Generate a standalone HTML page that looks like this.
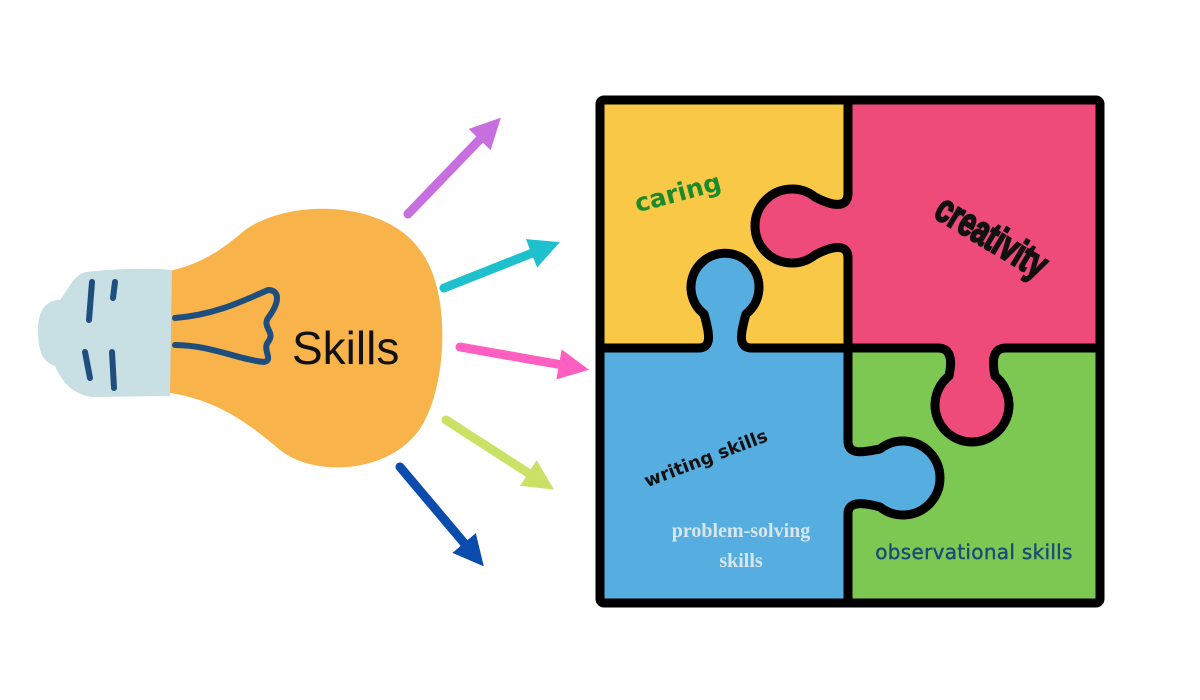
<!DOCTYPE html>
<html><head><meta charset="utf-8"><style>
html,body{margin:0;padding:0;background:#fff;}
svg{display:block;}
</style></head><body>
<svg width="1200" height="700" viewBox="0 0 1200 700" xmlns="http://www.w3.org/2000/svg">
<defs>
<marker id="mp" viewBox="0 0 10 10" refX="3" refY="5" markerWidth="3.4" markerHeight="3.4" orient="auto"><path d="M0,0 L10,5 L0,10 z" fill="#C86FE0"/></marker>
<marker id="mc" viewBox="0 0 10 10" refX="3" refY="5" markerWidth="3.4" markerHeight="3.4" orient="auto"><path d="M0,0 L10,5 L0,10 z" fill="#1EC0CE"/></marker>
<marker id="mk" viewBox="0 0 10 10" refX="3" refY="5" markerWidth="3.4" markerHeight="3.4" orient="auto"><path d="M0,0 L10,5 L0,10 z" fill="#FF5FC0"/></marker>
<marker id="ml" viewBox="0 0 10 10" refX="3" refY="5" markerWidth="3.4" markerHeight="3.4" orient="auto"><path d="M0,0 L10,5 L0,10 z" fill="#C9E265"/></marker>
<marker id="mb" viewBox="0 0 10 10" refX="3" refY="5" markerWidth="3.4" markerHeight="3.4" orient="auto"><path d="M0,0 L10,5 L0,10 z" fill="#0A4BAE"/></marker>
</defs>

<!-- bulb -->
<path d="M165,272 C200,265 222,250 245,230 C290,198 385,200 420,250 C452,292 446,380 425,420 C400,472 318,480 280,450 C250,425 220,400 165,392 Z" fill="#F8B34A"/>
<path d="M172,270 C140,267 102,270 86,272 C74,274 68,290 60,300 C45,300 38,312 38,330 C38,350 42,362 55,366 C62,382 72,394 92,397 L170,396 Z" fill="#C8DFE3"/>
<g stroke="#1E4E7E" stroke-width="6" stroke-linecap="round" fill="none">
<path d="M92,282 L89,320"/>
<path d="M115,282 L113,298"/>
<path d="M85,352 L90,378"/>
<path d="M112,352 L114,388"/>
<path d="M175,318 C215,315 245,300 268,290 C280,290 280,302 268,318 C262,328 276,332 268,342 C262,350 274,360 264,362 C240,360 210,345 175,345"/>
</g>
<text x="292" y="364" font-family="Liberation Sans, sans-serif" font-size="46" fill="#111">Skills</text>

<!-- arrows -->
<g stroke-width="9" stroke-linecap="round">
<line x1="408" y1="214" x2="486" y2="133" stroke="#C86FE0" marker-end="url(#mp)"/>
<line x1="444" y1="288" x2="540" y2="250" stroke="#1EC0CE" marker-end="url(#mc)"/>
<line x1="460" y1="347" x2="568" y2="366" stroke="#FF5FC0" marker-end="url(#mk)"/>
<line x1="446" y1="420" x2="536" y2="478" stroke="#C9E265" marker-end="url(#ml)"/>
<line x1="400" y1="467" x2="470" y2="550" stroke="#0A4BAE" marker-end="url(#mb)"/>
</g>

<!-- puzzle fills -->
<rect x="600" y="100" width="248" height="248" fill="#F9C846"/>
<rect x="848" y="100" width="252" height="248" fill="#EE4B7A"/>
<rect x="600" y="348" width="248" height="255" fill="#56ADE0"/>
<rect x="848" y="348" width="252" height="255" fill="#7DC852"/>
<path d="M848,193 C848,210 830,205 815,197 A37,37 0 1 0 815,255 C830,247 848,242 848,258 Z" fill="#EE4B7A"/>
<path d="M848,441 C848,456 865,452 880,449 A37,37 0 1 1 880,507 C865,503 848,500 848,514 Z" fill="#56ADE0"/>
<path d="M698,348 C712,348 710,335 704,314 A34,34 0 1 1 746,314 C740,335 738,348 752,348 Z" fill="#56ADE0"/>
<path d="M938,348 C952,348 952,362 949,376 A37,37 0 1 0 995,376 C992,362 992,348 1006,348 Z" fill="#EE4B7A"/>
<g stroke="#000" stroke-width="9" fill="none" stroke-linejoin="round">
<path d="M848,100 V193 C848,210 830,205 815,197 A37,37 0 1 0 815,255 C830,247 848,242 848,258 V441 C848,456 865,452 880,449 A37,37 0 1 1 880,507 C865,503 848,500 848,514 V603"/>
<path d="M600,348 H698 C712,348 710,335 704,314 A34,34 0 1 1 746,314 C740,335 738,348 752,348 H938 C952,348 952,362 949,376 A37,37 0 1 0 995,376 C992,362 992,348 1006,348 H1100"/>
<rect x="600" y="100" width="500" height="503" rx="4"/>
</g>

<!-- labels -->
<text transform="translate(680,201) rotate(-15)" text-anchor="middle" font-family="DejaVu Sans, sans-serif" font-weight="bold" font-size="25" fill="#1A8A2A">caring</text>
<text transform="translate(985,248) rotate(31) scale(0.7,1)" text-anchor="middle" font-family="Liberation Sans, sans-serif" font-weight="bold" font-size="40" fill="#111" stroke="#111" stroke-width="2.2">creativity</text>
<text transform="translate(708,464) rotate(-21)" text-anchor="middle" font-family="DejaVu Sans, sans-serif" font-weight="bold" font-size="18" fill="#111">writing skills</text>
<text x="741" y="537" text-anchor="middle" font-family="Liberation Serif, serif" font-weight="bold" font-size="20" fill="#D8E6EE">problem-solving</text>
<text x="741" y="567" text-anchor="middle" font-family="Liberation Serif, serif" font-weight="bold" font-size="20" fill="#D8E6EE">skills</text>
<text x="974" y="559" text-anchor="middle" font-family="DejaVu Sans, sans-serif" font-size="20" letter-spacing="0.3" fill="#1A4A7A" stroke="#1A4A7A" stroke-width="0.4">observational skills</text>
</svg>
</body></html>
